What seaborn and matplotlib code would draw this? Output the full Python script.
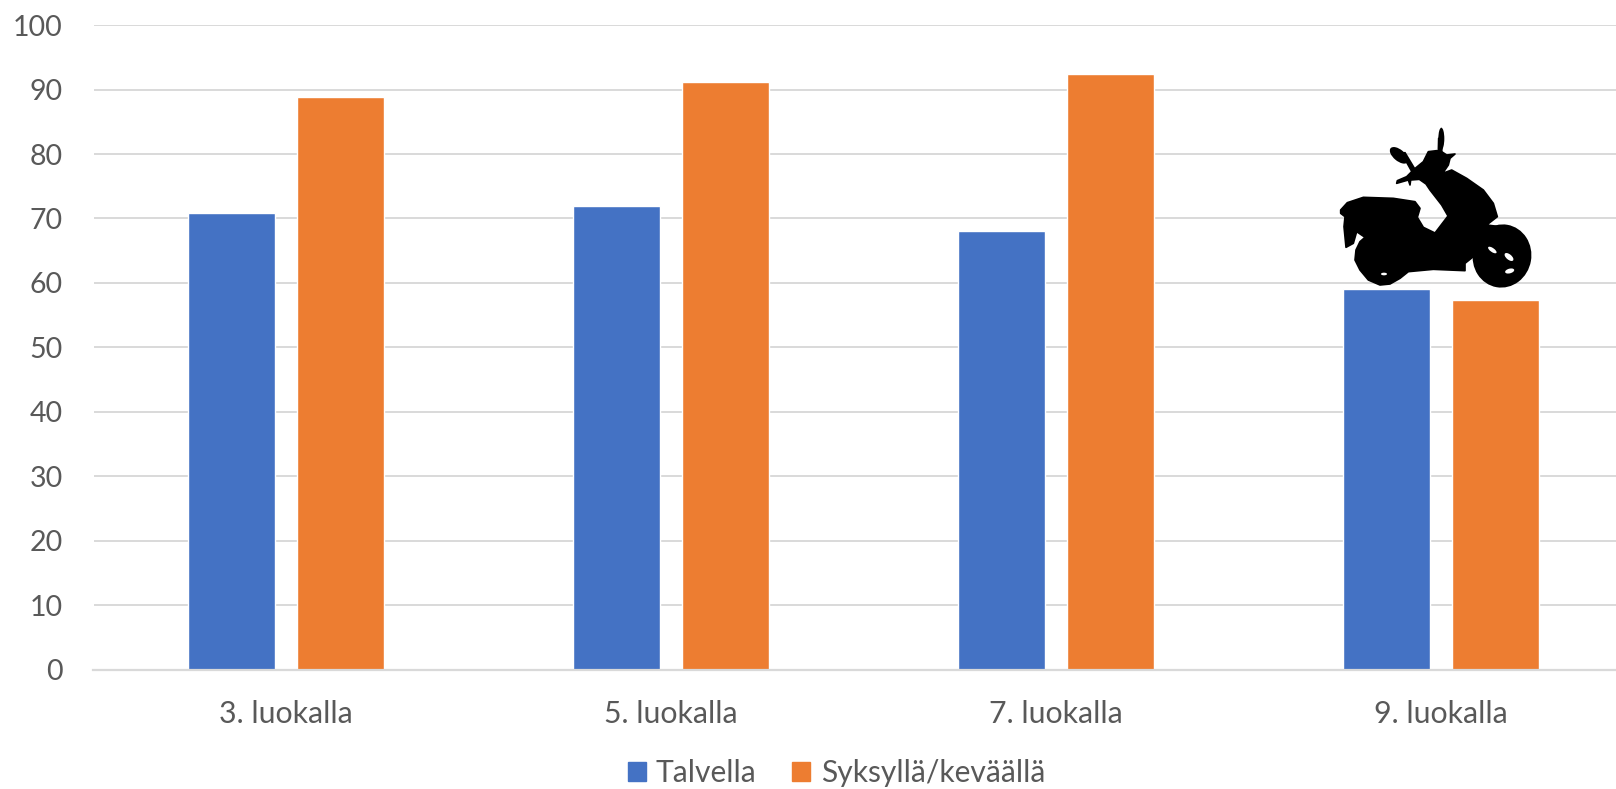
import matplotlib
matplotlib.use("Agg")
import matplotlib.pyplot as plt
from matplotlib.patches import Polygon, Ellipse
import pandas as pd
import seaborn as sns

categories = ["3. luokalla", "5. luokalla", "7. luokalla", "9. luokalla"]
talvella = [70.9, 72.0, 68.0, 59.1]
syksylla = [88.8, 91.2, 92.5, 57.3]
series_names = ["Talvella", "Syksyllä/keväällä"]
yticks = list(range(0, 101, 10))

W, H = 1616, 789
sns.set_theme(style="white")
plt.rcParams["font.family"] = ["Lato", "DejaVu Sans"]
GREY = "#595959"
GRID = "#D9D9D9"

df = pd.DataFrame({
    "luokka": categories * 2,
    "arvo": talvella + syksylla,
    "sarja": [series_names[0]] * 4 + [series_names[1]] * 4,
})

fig = plt.figure(figsize=(W / 100, H / 100), dpi=100, facecolor="white")
L, R, T, B = 93.5, 1616, 25.2, 669.5
ax = fig.add_axes([L / W, 1 - B / H, (R - L) / W, (B - T) / H])
sns.barplot(data=df, x="luokka", y="arvo", hue="sarja", hue_order=series_names,
            palette=["#4472C4", "#ED7D31"], width=0.567, gap=0.2,
            saturation=1, legend=False, ax=ax, zorder=3)
ax.set_xlim(-0.5, (R - L) / 385 - 0.5)
ax.set_ylim(0, 100)
ax.set_yticks(yticks)
ax.set_xlabel("")
ax.set_ylabel("")
ax.grid(axis="y", color=GRID, lw=1.4, zorder=0)
ax.set_axisbelow(True)
for s in ["top", "right", "left"]:
    ax.spines[s].set_visible(False)
ax.spines["bottom"].set_color(GRID)
ax.spines["bottom"].set_linewidth(1.6)
ax.spines["bottom"].set_zorder(4)
ax.tick_params(axis="x", length=0, labelsize=21.8, labelcolor=GREY, pad=22)
ax.tick_params(axis="y", length=0, labelsize=20.5, labelcolor=GREY, pad=22)

# Scooter silhouette (decoration), outlined in figure pixels
OX, OY, S = 1260, 110, 3.0
def fp(x, y):
    return ((OX + x / S) / W, 1 - (OY + y / S) / H)

# Ellipses are drawn in display pixels so that tilt stays undistorted
def px(x, y):
    return (OX + x / S, H - (OY + y / S))

body = [(242,300),(262,278),(310,262),(400,265),(465,275),(480,295),(472,322),(490,352),
        (525,369),(564,318),(545,285),(510,240),(498,222),(478,208),(452,210),(450,225),
        (445,210),(410,220),(412,212),(440,200),(458,182),(462,178),(490,155),(505,125),
        (530,122),(545,125),(560,135),(585,132),(570,145),(565,165),(548,190),(575,180),
        (620,205),(670,240),(700,280),(712,320),(680,345),(720,350),(760,370),(780,400),
        (720,440),(640,440),(615,460),(615,482),(520,478),(445,485),(420,505),(390,522),
        (360,525),(325,510),(300,480),(285,450),(288,420),(300,395),(315,382),(290,365),
        (280,400),(258,412),(252,350),(255,320),(242,310)]
mirror_stem = [(425,130),(435,128),(465,178),(455,184)]
antenna_stem = [(536,85),(548,85),(545,125),(535,125)]
for poly in [body, mirror_stem, antenna_stem]:
    fig.add_artist(Polygon([fp(*p) for p in poly], closed=True, fc="black", ec="black",
                           lw=1.2, joinstyle="round", transform=fig.transFigure, zorder=6))
for x, y, a, b, ang in [(417,136,66,34,-40),(544,86,18,66,0),(726,438,176,190,-10)]:
    fig.add_artist(Ellipse(px(x, y), a / S, b / S, angle=ang, fc="black", ec="none",
                           transform=None, zorder=6))
for x, y, a, b, ang in [(697,420,30,12,-35),(747,441,32,16,-40),(749,483,28,14,15),(372,492,18,8,0)]:
    fig.add_artist(Ellipse(px(x, y), a / S, b / S, angle=ang, fc="white", ec="none",
                           transform=None, zorder=7))

# Legend
handles = [plt.Rectangle((0, 0), 1, 1, color=c) for c in ["#4472C4", "#ED7D31"]]
fig.legend(handles, series_names, loc="center", bbox_to_anchor=(0.5175, 1 - 773 / H),
           ncol=2, frameon=False, fontsize=21.6, labelcolor=GREY, handlelength=0.6,
           handleheight=0.6, handletextpad=0.34, columnspacing=1.2)

fig.savefig("out.png", dpi=100, facecolor="white")
